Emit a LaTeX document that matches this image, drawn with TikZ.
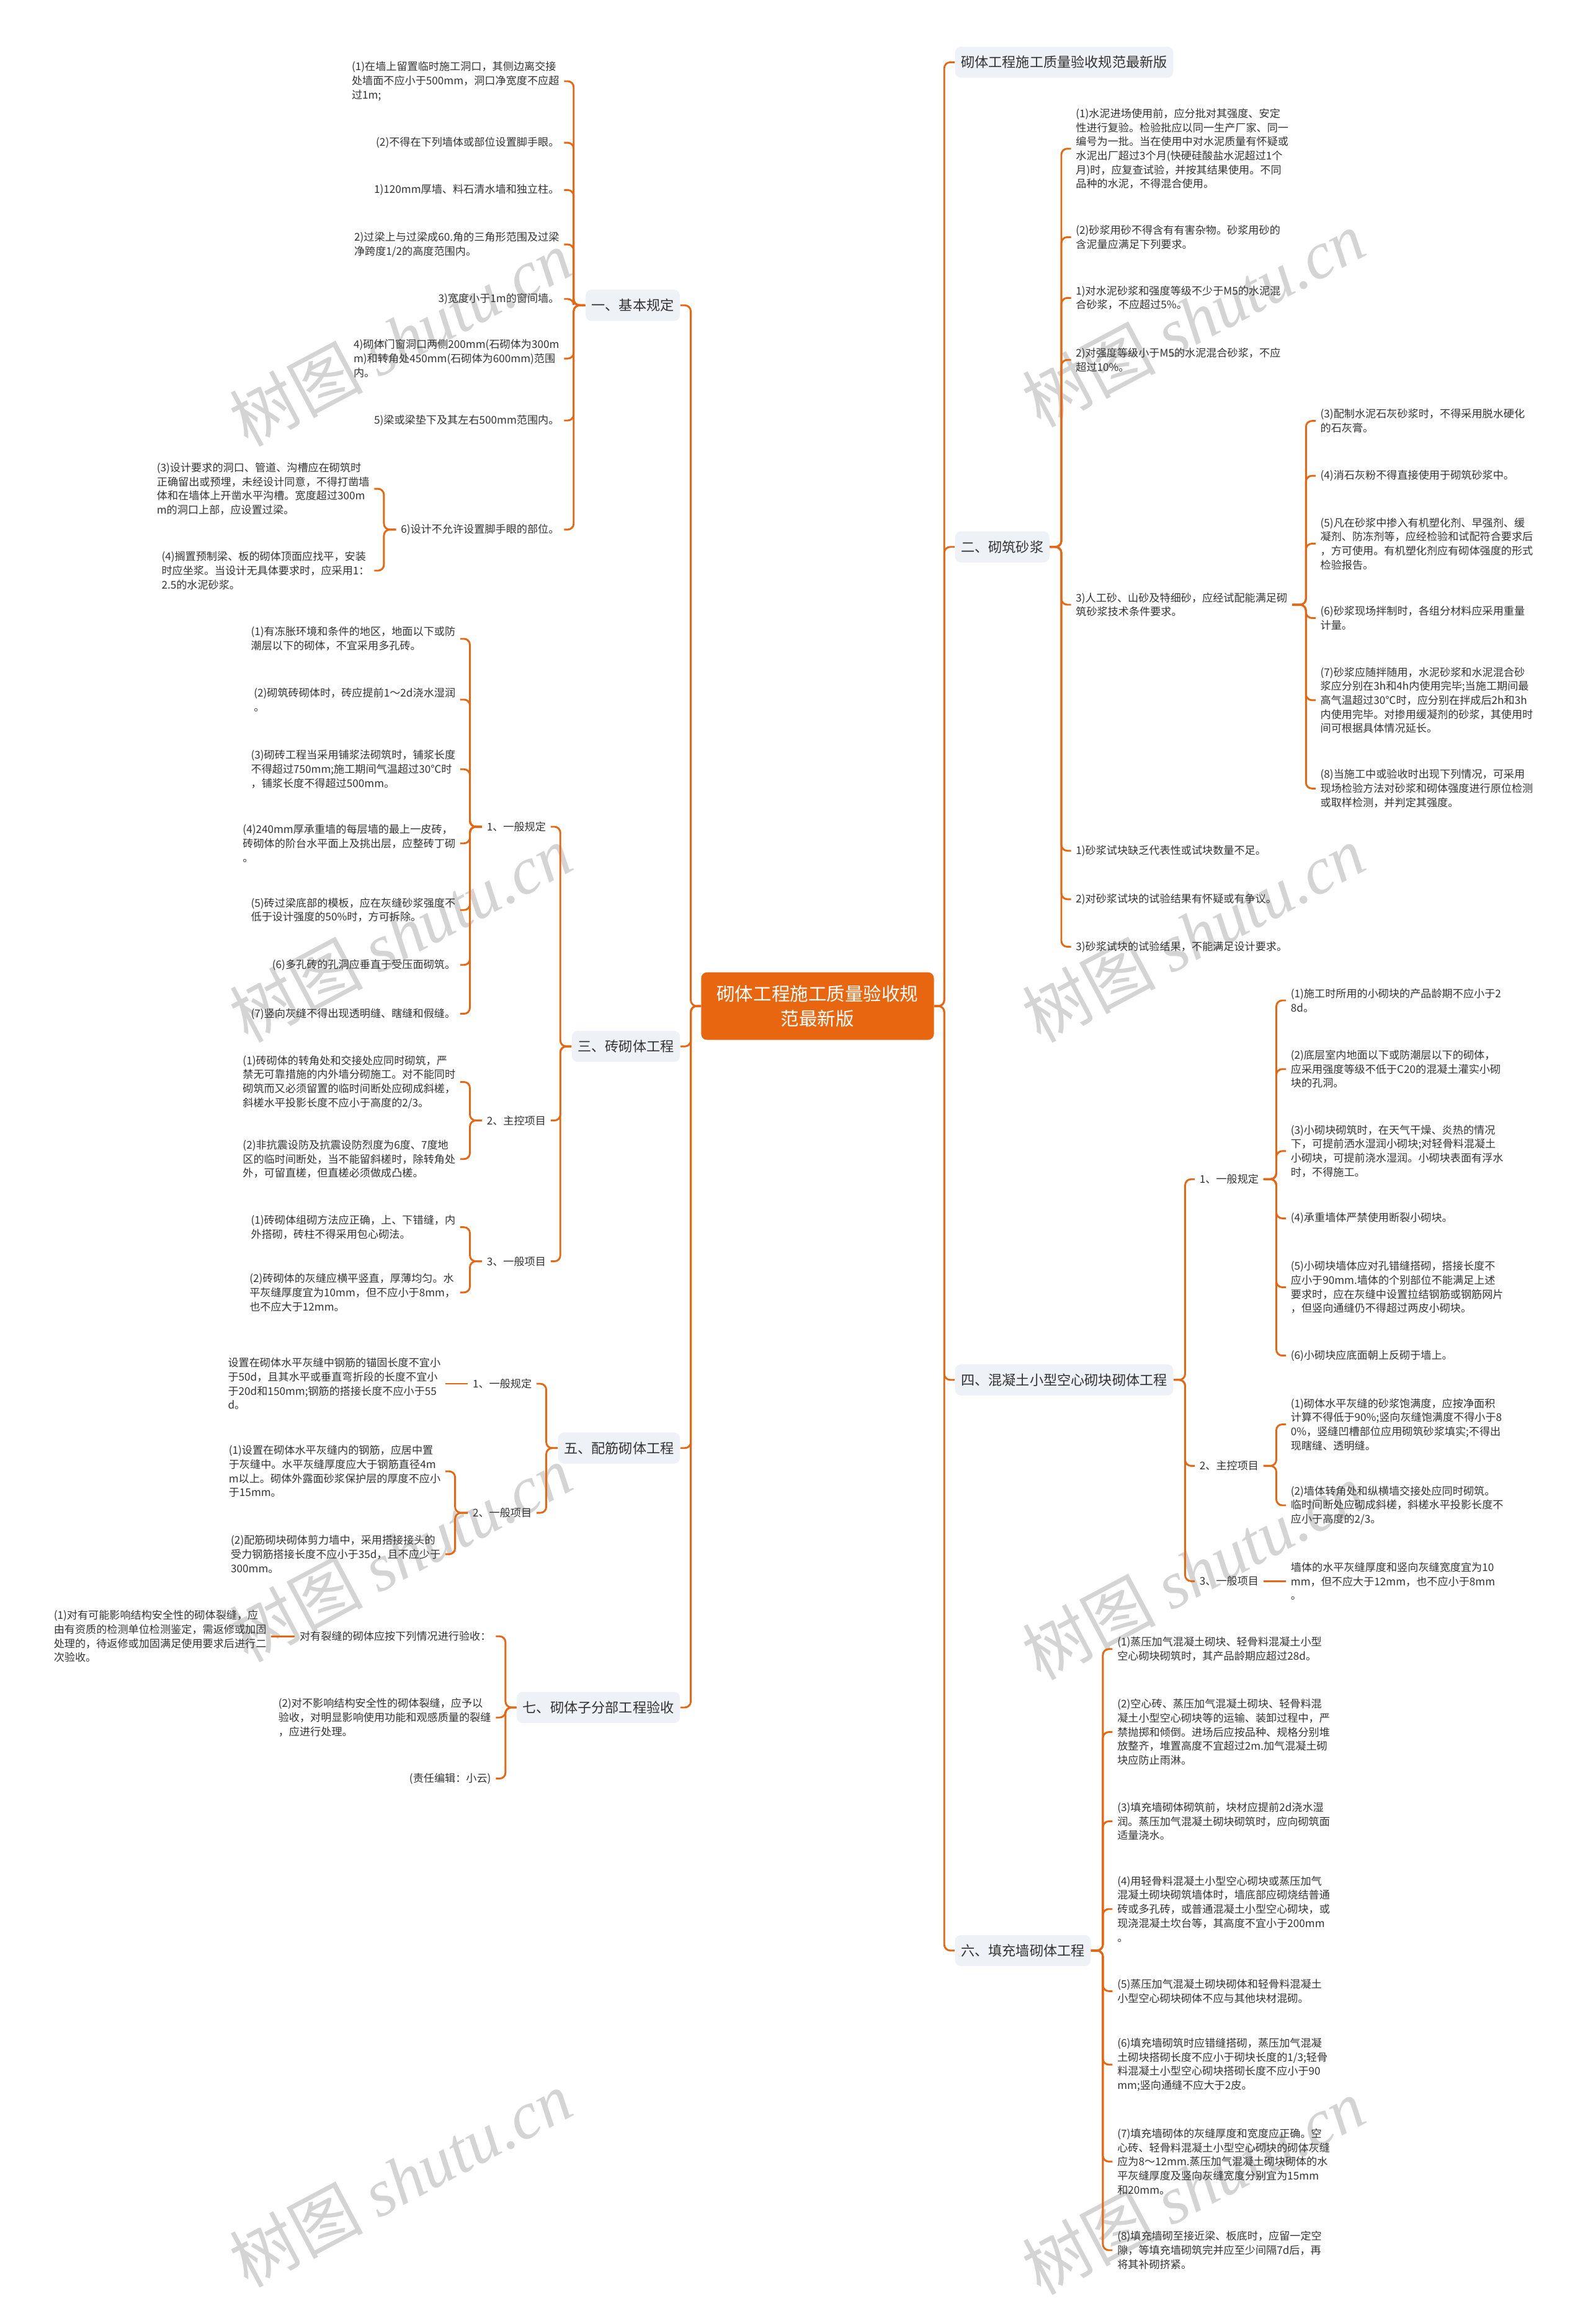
\documentclass[tikz,border=0pt]{standalone}
\usepackage{fontspec}
\setmainfont{Noto Sans CJK SC}
\newfontfamily\wmlatin{Liberation Serif}
\usepackage{xcolor}
\definecolor{mapor}{RGB}{232,102,16}
\definecolor{boxgray}{RGB}{238,241,245}
\definecolor{txt}{RGB}{51,51,51}

\begin{document}
\begin{tikzpicture}[
  x=0.25mm, y=-0.25mm,
  hub/.style={fill=mapor, text=white, rounded corners=1mm, align=center, font=\fontsize{8.8}{11.8}\selectfont, minimum width=39.25mm, minimum height=11.4mm, inner sep=0pt},
  topic/.style={fill=boxgray, text=txt, rounded corners=1mm, font=\fontsize{6.6}{8}\selectfont, inner xsep=1mm, inner ysep=0pt, minimum height=5.25mm},
  note/.style={text=txt, align=left, font=\fontsize{5.1}{6.75}\selectfont, inner xsep=0.75mm, inner ysep=0.4mm},
  wire/.style={draw=mapor, line width=0.3mm, rounded corners=1mm},
  wm/.style={text=black!17, rotate=28, font=\fontsize{32}{32}\selectfont}
]
\path[use as bounding box, fill=white] (0,0) rectangle (1071,1568);

\node[wm] (wm1) at (270,228) {树图 {\wmlatin\itshape shutu.cn}};
\node[wm] (wm2) at (805,215) {树图 {\wmlatin\itshape shutu.cn}};
\node[wm] (wm3) at (270,630) {树图 {\wmlatin\itshape shutu.cn}};
\node[wm] (wm4) at (805,630) {树图 {\wmlatin\itshape shutu.cn}};
\node[wm] (wm5) at (270,1048) {树图 {\wmlatin\itshape shutu.cn}};
\node[wm] (wm6) at (805,1060) {树图 {\wmlatin\itshape shutu.cn}};
\node[wm] (wm7) at (270,1470) {树图 {\wmlatin\itshape shutu.cn}};
\node[wm] (wm8) at (805,1475) {树图 {\wmlatin\itshape shutu.cn}};

\node[hub] (hub) at (551.5,678.8) {砌体工程施工质量验收规\\范最新版};

\node[topic, anchor=east] (basic) at (459,206) {一、基本规定};
\node[topic, anchor=east] (brick) at (459,706) {三、砖砌体工程};
\node[topic, anchor=east] (rebar) at (459,977) {五、配筋砌体工程};
\node[topic, anchor=east] (accept) at (459,1152) {七、砌体子分部工程验收};
\node[topic, anchor=west] (ver) at (644,42) {砌体工程施工质量验收规范最新版};
\node[topic, anchor=west] (mortar) at (644,369) {二、砌筑砂浆};
\node[topic, anchor=west] (block) at (644,931) {四、混凝土小型空心砌块砌体工程};
\node[topic, anchor=west] (infill) at (644,1316) {六、填充墙砌体工程};

\node[note, anchor=east] (basic1) at (380.5,54.8) {(1)在墙上留置临时施工洞口，其侧边离交接\\处墙面不应小于500mm，洞口净宽度不应超\\过1m;};
\node[note, anchor=east] (basic2) at (380.5,96.3) {(2)不得在下列墙体或部位设置脚手眼。};
\node[note, anchor=east] (basic3) at (380.5,128.2) {1)120mm厚墙、料石清水墙和独立柱。};
\node[note, anchor=east] (basic4) at (380.5,164.9) {2)过梁上与过梁成60.角的三角形范围及过梁\\净跨度1/2的高度范围内。};
\node[note, anchor=east] (basic5) at (380.5,201.7) {3)宽度小于1m的窗间墙。};
\node[note, anchor=east] (basic6) at (380.5,241.9) {4)砌体门窗洞口两侧200mm(石砌体为300m\\m)和转角处450mm(石砌体为600mm)范围\\内。};
\node[note, anchor=east] (basic7) at (380.5,283.7) {5)梁或梁垫下及其左右500mm范围内。};
\node[note, anchor=east] (basic8) at (380.5,357.3) {6)设计不允许设置脚手眼的部位。};
\node[note, anchor=east] (basic81) at (252.5,329.8) {(3)设计要求的洞口、管道、沟槽应在砌筑时\\正确留出或预埋，未经设计同意，不得打凿墙\\体和在墙体上开凿水平沟槽。宽度超过300m\\m的洞口上部，应设置过梁。};
\node[note, anchor=east] (basic82) at (252.5,385) {(4)搁置预制梁、板的砌体顶面应找平，安装\\时应坐浆。当设计无具体要求时，应采用1：\\2.5的水泥砂浆。};

\node[note, anchor=east] (brick1) at (371.5,557.8) {1、一般规定};
\node[note, anchor=east] (brick11) at (310.5,431) {(1)有冻胀环境和条件的地区，地面以下或防\\潮层以下的砌体，不宜采用多孔砖。};
\node[note, anchor=east] (brick12) at (310.5,472) {(2)砌筑砖砌体时，砖应提前1～2d浇水湿润\\。};
\node[note, anchor=east] (brick13) at (310.5,519) {(3)砌砖工程当采用铺浆法砌筑时，铺浆长度\\不得超过750mm;施工期间气温超过30℃时\\，铺浆长度不得超过500mm。};
\node[note, anchor=east] (brick14) at (310.5,569) {(4)240mm厚承重墙的每层墙的最上一皮砖，\\砖砌体的阶台水平面上及挑出层，应整砖丁砌\\。};
\node[note, anchor=east] (brick15) at (310.5,614) {(5)砖过梁底部的模板，应在灰缝砂浆强度不\\低于设计强度的50\%时，方可拆除。};
\node[note, anchor=east] (brick16) at (310.5,651) {(6)多孔砖的孔洞应垂直于受压面砌筑。};
\node[note, anchor=east] (brick17) at (310.5,684) {(7)竖向灰缝不得出现透明缝、瞎缝和假缝。};
\node[note, anchor=east] (brick2) at (371.5,756) {2、主控项目};
\node[note, anchor=east] (brick21) at (310.5,730) {(1)砖砌体的转角处和交接处应同时砌筑，严\\禁无可靠措施的内外墙分砌施工。对不能同时\\砌筑而又必须留置的临时间断处应砌成斜槎，\\斜槎水平投影长度不应小于高度的2/3。};
\node[note, anchor=east] (brick22) at (310.5,782) {(2)非抗震设防及抗震设防烈度为6度、7度地\\区的临时间断处，当不能留斜槎时，除转角处\\外，可留直槎，但直槎必须做成凸槎。};
\node[note, anchor=east] (brick3) at (371.5,851) {3、一般项目};
\node[note, anchor=east] (brick31) at (310.5,828) {(1)砖砌体组砌方法应正确，上、下错缝，内\\外搭砌，砖柱不得采用包心砌法。};
\node[note, anchor=east] (brick32) at (310.5,872) {(2)砖砌体的灰缝应横平竖直，厚薄均匀。水\\平灰缝厚度宜为10mm，但不应小于8mm，\\也不应大于12mm。};

\node[note, anchor=east] (rebar1) at (362,933.6) {1、一般规定};
\node[note, anchor=east] (rebar11) at (300.5,933.6) {设置在砌体水平灰缝中钢筋的锚固长度不宜小\\于50d，且其水平或垂直弯折段的长度不宜小\\于20d和150mm;钢筋的搭接长度不应小于55\\d。};
\node[note, anchor=east] (rebar2) at (362,1020.7) {2、一般项目};
\node[note, anchor=east] (rebar21) at (300.5,992.7) {(1)设置在砌体水平灰缝内的钢筋，应居中置\\于灰缝中。水平灰缝厚度应大于钢筋直径4m\\m以上。砌体外露面砂浆保护层的厚度不应小\\于15mm。};
\node[note, anchor=east] (rebar22) at (300.5,1048.6) {(2)配筋砌块砌体剪力墙中，采用搭接接头的\\受力钢筋搭接长度不应小于35d，且不应少于\\300mm。};

\node[note, anchor=east] (accept1) at (334.5,1104) {对有裂缝的砌体应按下列情况进行验收：};
\node[note, anchor=east] (accept11) at (183,1104) {(1)对有可能影响结构安全性的砌体裂缝，应\\由有资质的检测单位检测鉴定，需返修或加固\\处理的，待返修或加固满足使用要求后进行二\\次验收。};
\node[note, anchor=east] (accept2) at (334.5,1158.8) {(2)对不影响结构安全性的砌体裂缝，应予以\\验收，对明显影响使用功能和观感质量的裂缝\\，应进行处理。};
\node[note, anchor=east] (accept3) at (334.5,1200) {(责任编辑：小云)};

\node[note, anchor=west] (mortar1) at (722.5,100.3) {(1)水泥进场使用前，应分批对其强度、安定\\性进行复验。检验批应以同一生产厂家、同一\\编号为一批。当在使用中对水泥质量有怀疑或\\水泥出厂超过3个月(快硬硅酸盐水泥超过1个\\月)时，应复查试验，并按其结果使用。不同\\品种的水泥，不得混合使用。};
\node[note, anchor=west] (mortar2) at (722.5,160) {(2)砂浆用砂不得含有有害杂物。砂浆用砂的\\含泥量应满足下列要求。};
\node[note, anchor=west] (mortar3) at (722.5,201) {1)对水泥砂浆和强度等级不少于M5的水泥混\\合砂浆，不应超过5\%。};
\node[note, anchor=west] (mortar4) at (722.5,242.8) {2)对强度等级小于M5的水泥混合砂浆，不应\\超过10\%。};
\node[note, anchor=west] (mortar5) at (722.5,408) {3)人工砂、山砂及特细砂，应经试配能满足砌\\筑砂浆技术条件要求。};
\node[note, anchor=west] (mortar51) at (887.5,284) {(3)配制水泥石灰砂浆时，不得采用脱水硬化\\的石灰膏。};
\node[note, anchor=west] (mortar52) at (887.5,321) {(4)消石灰粉不得直接使用于砌筑砂浆中。};
\node[note, anchor=west] (mortar53) at (887.5,366.8) {(5)凡在砂浆中掺入有机塑化剂、早强剂、缓\\凝剂、防冻剂等，应经检验和试配符合要求后\\，方可使用。有机塑化剂应有砌体强度的形式\\检验报告。};
\node[note, anchor=west] (mortar54) at (887.5,417) {(6)砂浆现场拌制时，各组分材料应采用重量\\计量。};
\node[note, anchor=west] (mortar55) at (887.5,472.4) {(7)砂浆应随拌随用，水泥砂浆和水泥混合砂\\浆应分别在3h和4h内使用完毕;当施工期间最\\高气温超过30℃时，应分别在拌成后2h和3h\\内使用完毕。对掺用缓凝剂的砂浆，其使用时\\间可根据具体情况延长。};
\node[note, anchor=west] (mortar56) at (887.5,532) {(8)当施工中或验收时出现下列情况，可采用\\现场检验方法对砂浆和砌体强度进行原位检测\\或取样检测，并判定其强度。};
\node[note, anchor=west] (mortar6) at (722.5,574) {1)砂浆试块缺乏代表性或试块数量不足。};
\node[note, anchor=west] (mortar7) at (722.5,606.7) {2)对砂浆试块的试验结果有怀疑或有争议。};
\node[note, anchor=west] (mortar8) at (722.5,638.8) {3)砂浆试块的试验结果，不能满足设计要求。};

\node[note, anchor=west] (block1) at (806,795.6) {1、一般规定};
\node[note, anchor=west] (block11) at (867.5,675) {(1)施工时所用的小砌块的产品龄期不应小于2\\8d。};
\node[note, anchor=west] (block12) at (867.5,721.3) {(2)底层室内地面以下或防潮层以下的砌体，\\应采用强度等级不低于C20的混凝土灌实小砌\\块的孔洞。};
\node[note, anchor=west] (block13) at (867.5,776.6) {(3)小砌块砌筑时，在天气干燥、炎热的情况\\下，可提前洒水湿润小砌块;对轻骨料混凝土\\小砌块，可提前浇水湿润。小砌块表面有浮水\\时，不得施工。};
\node[note, anchor=west] (block14) at (867.5,822) {(4)承重墙体严禁使用断裂小砌块。};
\node[note, anchor=west] (block15) at (867.5,868.5) {(5)小砌块墙体应对孔错缝搭砌，搭接长度不\\应小于90mm.墙体的个别部位不能满足上述\\要求时，应在灰缝中设置拉结钢筋或钢筋网片\\，但竖向通缝仍不得超过两皮小砌块。};
\node[note, anchor=west] (block16) at (867.5,914.6) {(6)小砌块应底面朝上反砌于墙上。};
\node[note, anchor=west] (block2) at (806,989) {2、主控项目};
\node[note, anchor=west] (block21) at (867.5,961) {(1)砌体水平灰缝的砂浆饱满度，应按净面积\\计算不得低于90\%;竖向灰缝饱满度不得小于8\\0\%，竖缝凹槽部位应用砌筑砂浆填实;不得出\\现瞎缝、透明缝。};
\node[note, anchor=west] (block22) at (867.5,1015.6) {(2)墙体转角处和纵横墙交接处应同时砌筑。\\临时间断处应砌成斜槎，斜槎水平投影长度不\\应小于高度的2/3。};
\node[note, anchor=west] (block3) at (806,1066.8) {3、一般项目};
\node[note, anchor=west] (block31) at (867.5,1066.8) {墙体的水平灰缝厚度和竖向灰缝宽度宜为10\\mm，但不应大于12mm，也不应小于8mm\\。};

\node[note, anchor=west] (infill1) at (750.5,1112.6) {(1)蒸压加气混凝土砌块、轻骨料混凝土小型\\空心砌块砌筑时，其产品龄期应超过28d。};
\node[note, anchor=west] (infill2) at (750.5,1168.6) {(2)空心砖、蒸压加气混凝土砌块、轻骨料混\\凝土小型空心砌块等的运输、装卸过程中，严\\禁抛掷和倾倒。进场后应按品种、规格分别堆\\放整齐，堆置高度不宜超过2m.加气混凝土砌\\块应防止雨淋。};
\node[note, anchor=west] (infill3) at (750.5,1228.8) {(3)填充墙砌体砌筑前，块材应提前2d浇水湿\\润。蒸压加气混凝土砌块砌筑时，应向砌筑面\\适量浇水。};
\node[note, anchor=west] (infill4) at (750.5,1288) {(4)用轻骨料混凝土小型空心砌块或蒸压加气\\混凝土砌块砌筑墙体时，墙底部应砌烧结普通\\砖或多孔砖，或普通混凝土小型空心砌块，或\\现浇混凝土坎台等，其高度不宜小于200mm\\。};
\node[note, anchor=west] (infill5) at (750.5,1343.4) {(5)蒸压加气混凝土砌块砌体和轻骨料混凝土\\小型空心砌块砌体不应与其他块材混砌。};
\node[note, anchor=west] (infill6) at (750.5,1393) {(6)填充墙砌筑时应错缝搭砌，蒸压加气混凝\\土砌块搭砌长度不应小于砌块长度的1/3;轻骨\\料混凝土小型空心砌块搭砌长度不应小于90\\mm;竖向通缝不应大于2皮。};
\node[note, anchor=west] (infill7) at (750.5,1458.4) {(7)填充墙砌体的灰缝厚度和宽度应正确。空\\心砖、轻骨料混凝土小型空心砌块的砌体灰缝\\应为8～12mm.蒸压加气混凝土砌块砌体的水\\平灰缝厚度及竖向灰缝宽度分别宜为15mm\\和20mm。};
\node[note, anchor=west] (infill8) at (750.5,1518.2) {(8)填充墙砌至接近梁、板底时，应留一定空\\隙，等填充墙砌筑完并应至少间隔7d后，再\\将其补砌挤紧。};

\draw[wire] (basic.east) -- ++(7,0) |- (hub.west);
\draw[wire] (brick.east) -- ++(7,0) |- (hub.west);
\draw[wire] (rebar.east) -- ++(7,0) |- (hub.west);
\draw[wire] (accept.east) -- ++(7,0) |- (hub.west);
\draw[wire] (ver.west) -- ++(-7,0) |- (hub.east);
\draw[wire] (mortar.west) -- ++(-7,0) |- (hub.east);
\draw[wire] (block.west) -- ++(-7,0) |- (hub.east);
\draw[wire] (infill.west) -- ++(-7,0) |- (hub.east);

\draw[wire] (basic1.east) -- ++(6.5,0) |- (basic.west);
\draw[wire] (basic2.east) -- ++(6.5,0) |- (basic.west);
\draw[wire] (basic3.east) -- ++(6.5,0) |- (basic.west);
\draw[wire] (basic4.east) -- ++(6.5,0) |- (basic.west);
\draw[wire] (basic5.east) -- ++(6.5,0) |- (basic.west);
\draw[wire] (basic6.east) -- ++(6.5,0) |- (basic.west);
\draw[wire] (basic7.east) -- ++(6.5,0) |- (basic.west);
\draw[wire] (basic8.east) -- ++(6.5,0) |- (basic.west);
\draw[wire] (basic81.east) -- ++(6.5,0) |- (basic8.west);
\draw[wire] (basic82.east) -- ++(6.5,0) |- (basic8.west);

\draw[wire] (brick1.east) -- ++(6.5,0) |- (brick.west);
\draw[wire] (brick2.east) -- ++(6.5,0) |- (brick.west);
\draw[wire] (brick3.east) -- ++(6.5,0) |- (brick.west);
\draw[wire] (brick11.east) -- ++(6.5,0) |- (brick1.west);
\draw[wire] (brick12.east) -- ++(6.5,0) |- (brick1.west);
\draw[wire] (brick13.east) -- ++(6.5,0) |- (brick1.west);
\draw[wire] (brick14.east) -- ++(6.5,0) |- (brick1.west);
\draw[wire] (brick15.east) -- ++(6.5,0) |- (brick1.west);
\draw[wire] (brick16.east) -- ++(6.5,0) |- (brick1.west);
\draw[wire] (brick17.east) -- ++(6.5,0) |- (brick1.west);
\draw[wire] (brick21.east) -- ++(6.5,0) |- (brick2.west);
\draw[wire] (brick22.east) -- ++(6.5,0) |- (brick2.west);
\draw[wire] (brick31.east) -- ++(6.5,0) |- (brick3.west);
\draw[wire] (brick32.east) -- ++(6.5,0) |- (brick3.west);

\draw[wire] (rebar1.east) -- ++(6.5,0) |- (rebar.west);
\draw[wire] (rebar2.east) -- ++(6.5,0) |- (rebar.west);
\draw[wire] (rebar11.east) -- (rebar1.west);
\draw[wire] (rebar21.east) -- ++(6.5,0) |- (rebar2.west);
\draw[wire] (rebar22.east) -- ++(6.5,0) |- (rebar2.west);

\draw[wire] (accept1.east) -- ++(6.5,0) |- (accept.west);
\draw[wire] (accept2.east) -- ++(6.5,0) |- (accept.west);
\draw[wire] (accept3.east) -- ++(6.5,0) |- (accept.west);
\draw[wire] (accept11.east) -- (accept1.west);

\draw[wire] (mortar1.west) -- ++(-6.5,0) |- (mortar.east);
\draw[wire] (mortar2.west) -- ++(-6.5,0) |- (mortar.east);
\draw[wire] (mortar3.west) -- ++(-6.5,0) |- (mortar.east);
\draw[wire] (mortar4.west) -- ++(-6.5,0) |- (mortar.east);
\draw[wire] (mortar5.west) -- ++(-6.5,0) |- (mortar.east);
\draw[wire] (mortar6.west) -- ++(-6.5,0) |- (mortar.east);
\draw[wire] (mortar7.west) -- ++(-6.5,0) |- (mortar.east);
\draw[wire] (mortar8.west) -- ++(-6.5,0) |- (mortar.east);
\draw[wire] (mortar51.west) -- ++(-6.5,0) |- (mortar5.east);
\draw[wire] (mortar52.west) -- ++(-6.5,0) |- (mortar5.east);
\draw[wire] (mortar53.west) -- ++(-6.5,0) |- (mortar5.east);
\draw[wire] (mortar54.west) -- ++(-6.5,0) |- (mortar5.east);
\draw[wire] (mortar55.west) -- ++(-6.5,0) |- (mortar5.east);
\draw[wire] (mortar56.west) -- ++(-6.5,0) |- (mortar5.east);

\draw[wire] (block1.west) -- ++(-6.5,0) |- (block.east);
\draw[wire] (block2.west) -- ++(-6.5,0) |- (block.east);
\draw[wire] (block3.west) -- ++(-6.5,0) |- (block.east);
\draw[wire] (block11.west) -- ++(-6.5,0) |- (block1.east);
\draw[wire] (block12.west) -- ++(-6.5,0) |- (block1.east);
\draw[wire] (block13.west) -- ++(-6.5,0) |- (block1.east);
\draw[wire] (block14.west) -- ++(-6.5,0) |- (block1.east);
\draw[wire] (block15.west) -- ++(-6.5,0) |- (block1.east);
\draw[wire] (block16.west) -- ++(-6.5,0) |- (block1.east);
\draw[wire] (block21.west) -- ++(-6.5,0) |- (block2.east);
\draw[wire] (block22.west) -- ++(-6.5,0) |- (block2.east);
\draw[wire] (block31.west) -- (block3.east);

\draw[wire] (infill1.west) -- ++(-6.5,0) |- (infill.east);
\draw[wire] (infill2.west) -- ++(-6.5,0) |- (infill.east);
\draw[wire] (infill3.west) -- ++(-6.5,0) |- (infill.east);
\draw[wire] (infill4.west) -- ++(-6.5,0) |- (infill.east);
\draw[wire] (infill5.west) -- ++(-6.5,0) |- (infill.east);
\draw[wire] (infill6.west) -- ++(-6.5,0) |- (infill.east);
\draw[wire] (infill7.west) -- ++(-6.5,0) |- (infill.east);
\draw[wire] (infill8.west) -- ++(-6.5,0) |- (infill.east);
\end{tikzpicture}
\end{document}
